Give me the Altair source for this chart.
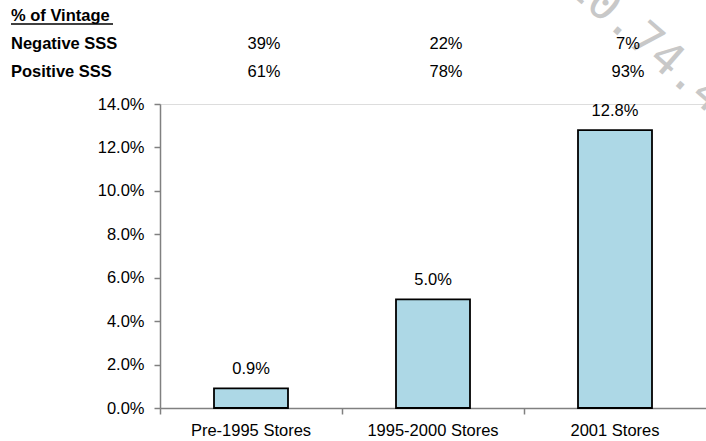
import altair as alt
import pandas as pd

categories = ["Pre-1995 Stores", "1995-2000 Stores", "2001 Stores"]
values = [0.009, 0.050, 0.128]
negative_sss = ["39%", "22%", "7%"]
positive_sss = ["61%", "78%", "93%"]
y_ticks = [0.0, 0.02, 0.04, 0.06, 0.08, 0.10, 0.12, 0.14]
table_title = "% of Vintage"
row_labels = ["Negative SSS", "Positive SSS"]
watermark = "10.74.4.10"

FONT = "Liberation Sans"
FS = 16.5

df = pd.DataFrame({
    "cat": categories,
    "value": values,
    "neg": negative_sss,
    "pos": positive_sss,
})

xenc = alt.X("cat:N", sort=categories,
             scale=alt.Scale(paddingInner=0, paddingOuter=0),
             axis=alt.Axis(title=None, labelAngle=0, bandPosition=0,
                           tickSize=6, labelPadding=8, domainColor="#808080",
                           tickColor="#808080", domainWidth=1.5, tickWidth=1.5,
                           labelFont=FONT, labelFontSize=FS, labelColor="black"))
yenc = alt.Y("value:Q",
             scale=alt.Scale(domain=[0, 0.14], nice=False),
             axis=alt.Axis(title=None, values=y_ticks, format=".1%", grid=False,
                           tickSize=6, labelPadding=10, domainColor="#808080",
                           tickColor="#808080", domainWidth=1.5, tickWidth=1.5,
                           labelFont=FONT, labelFontSize=FS, labelColor="black"))

bars = alt.Chart(df).mark_bar(size=74, fill="#ADD8E6", stroke="black",
                              strokeWidth=1.8).encode(x=xenc, y=yenc)

bar_labels = alt.Chart(df).mark_text(dy=-14, baseline="alphabetic", font=FONT,
                                     fontSize=FS, color="black").encode(
    x=alt.X("cat:N", sort=categories), y="value:Q",
    text=alt.Text("value:Q", format=".1%"))

neg_text = alt.Chart(df).mark_text(dx=13, baseline="alphabetic", font=FONT,
                                   fontSize=FS, color="black").encode(
    x=alt.X("cat:N", sort=categories), y=alt.value(-55), text="neg:N")
pos_text = alt.Chart(df).mark_text(dx=13, baseline="alphabetic", font=FONT,
                                   fontSize=FS, color="black").encode(
    x=alt.X("cat:N", sort=categories), y=alt.value(-27), text="pos:N")

lab_df = pd.DataFrame({"t": [table_title] + row_labels, "row": [0, 1, 2]})
title_txt = alt.Chart(lab_df[lab_df.row == 0]).mark_text(
    align="left", baseline="alphabetic", font=FONT, fontSize=FS,
    fontWeight="bold", color="black").encode(
    x=alt.value(-149), y=alt.value(-83), text="t:N")
neg_lab = alt.Chart(lab_df[lab_df.row == 1]).mark_text(
    align="left", baseline="alphabetic", font=FONT, fontSize=FS,
    fontWeight="bold", color="black").encode(
    x=alt.value(-149), y=alt.value(-55), text="t:N")
pos_lab = alt.Chart(lab_df[lab_df.row == 2]).mark_text(
    align="left", baseline="alphabetic", font=FONT, fontSize=FS,
    fontWeight="bold", color="black").encode(
    x=alt.value(-149), y=alt.value(-27), text="t:N")
underline = alt.Chart(lab_df[lab_df.row == 0]).mark_rule(
    color="black", strokeWidth=1.3).encode(
    x=alt.value(-149), x2=alt.value(-47), y=alt.value(-80))

wm_df = pd.DataFrame({"t": [watermark]})
wm = alt.Chart(wm_df).mark_text(
    align="left", baseline="alphabetic", angle=41, font="DejaVu Sans Mono",
    fontSize=46, color="#c8c8c8").encode(
    x=alt.value(403), y=alt.value(-116), text="t:N")

chart = alt.layer(
    wm, bars, bar_labels, neg_text, pos_text, title_txt, neg_lab, pos_lab, underline
).properties(
    width=546, height=304,
    autosize=alt.AutoSizeParams(type="none"),
    padding={"left": 160, "top": 104, "right": 0, "bottom": 33},
).configure_view(strokeWidth=0).configure(background="white")

chart.save("out.html", embed_options={"renderer": "svg", "actions": False})
